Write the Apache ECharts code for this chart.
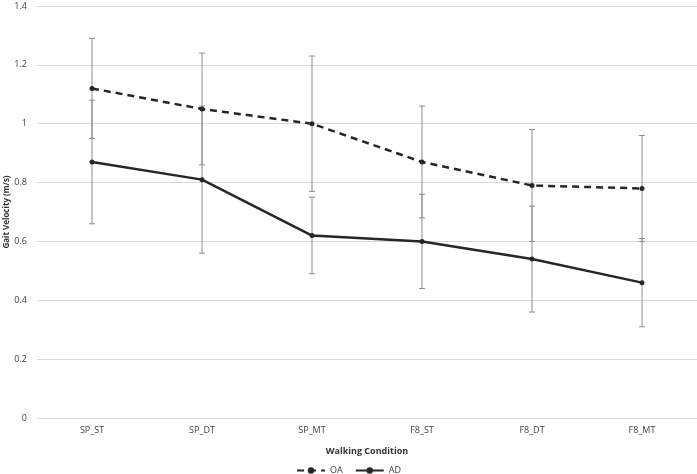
<!DOCTYPE html>
<html>
<head>
<meta charset="utf-8">
<script src="https://cdn.jsdelivr.net/npm/echarts@6/dist/echarts.min.js"></script>
<style>html,body{margin:0;padding:0;background:#fff}#c{width:697px;height:474px}</style>
</head>
<body>
<div id="c"></div>
<script>
const categories = ['SP_ST','SP_DT','SP_MT','F8_ST','F8_DT','F8_MT'];
const oaValues = [1.12, 1.05, 1.00, 0.87, 0.79, 0.78];
const oaErr = [0.17, 0.19, 0.23, 0.19, 0.19, 0.18];
const adValues = [0.87, 0.81, 0.62, 0.60, 0.54, 0.46];
const adErr = [0.21, 0.25, 0.13, 0.16, 0.18, 0.15];
const yTicks = [0, 0.2, 0.4, 0.6, 0.8, 1, 1.2, 1.4];

const FONT = '"Open Sans", "Liberation Sans", sans-serif';

function errData(vals, errs) {
  return vals.map((v, i) => [i, v - errs[i], v + errs[i]]);
}
function errSeries(name, vals, errs) {
  return {
    type: 'custom',
    name: name + ' err',
    data: errData(vals, errs),
    z: 1,
    silent: true,
    renderItem: function (params, api) {
      const x = api.value(0);
      const lo = api.coord([x, api.value(1)]);
      const hi = api.coord([x, api.value(2)]);
      const w = 3;
      const st = { stroke: '#8c8c8c', lineWidth: 1 };
      return {
        type: 'group',
        children: [
          { type: 'line', shape: { x1: lo[0], y1: lo[1], x2: hi[0], y2: hi[1] }, style: st },
          { type: 'line', shape: { x1: lo[0] - w, y1: lo[1], x2: lo[0] + w, y2: lo[1] }, style: st },
          { type: 'line', shape: { x1: hi[0] - w, y1: hi[1], x2: hi[0] + w, y2: hi[1] }, style: st }
        ]
      };
    }
  };
}

const chart = echarts.init(document.getElementById('c'));
chart.setOption({
  animation: false,
  backgroundColor: '#fff',
  textStyle: { fontFamily: FONT },
  grid: { left: 37, width: 660, top: 6, bottom: 56, containLabel: false, outerBoundsMode: 'none' },
  legend: {
    data: ['OA', 'AD'],
    top: 461,
    left: 'center',
    itemWidth: 28,
    itemHeight: 8,
    itemGap: 12,
    textStyle: { fontSize: 9, color: '#404040', fontFamily: FONT }
  },
  xAxis: {
    type: 'category',
    data: categories,
    name: 'Walking Condition',
    nameLocation: 'middle',
    nameGap: 29,
    nameTextStyle: { fontSize: 9, fontWeight: 'bold', color: '#333', fontFamily: FONT },
    axisLine: { lineStyle: { color: '#d9d9d9' } },
    axisTick: { show: false },
    axisLabel: { fontSize: 9, color: '#404040', margin: 8, fontFamily: FONT }
  },
  yAxis: {
    type: 'value',
    min: 0,
    max: 1.4,
    interval: 0.2,
    name: 'Gait Velocity (m/s)',
    nameLocation: 'middle',
    nameGap: 26,
    nameMoveOverlap: false,
    nameTextStyle: { fontSize: 8, fontWeight: 'bold', color: '#333', fontFamily: FONT },
    axisLine: { show: false },
    axisTick: { show: false },
    splitLine: { lineStyle: { color: '#d9d9d9', width: 1 } },
    axisLabel: {
      fontSize: 9, color: '#404040', margin: 10, fontFamily: FONT,
      formatter: function (v) { return yTicks.indexOf(Math.round(v * 10) / 10) >= 0 ? String(Math.round(v * 10) / 10) : ''; }
    }
  },
  series: [
    errSeries('OA', oaValues, oaErr),
    errSeries('AD', adValues, adErr),
    {
      name: 'OA', type: 'line', data: oaValues, z: 3,
      symbol: 'circle', symbolSize: 5,
      lineStyle: { color: '#262626', width: 2.5, type: [7, 5] },
      itemStyle: { color: '#262626' }
    },
    {
      name: 'AD', type: 'line', data: adValues, z: 3,
      symbol: 'circle', symbolSize: 5,
      lineStyle: { color: '#262626', width: 2.5 },
      itemStyle: { color: '#262626' }
    }
  ]
});
</script>
</body>
</html>
